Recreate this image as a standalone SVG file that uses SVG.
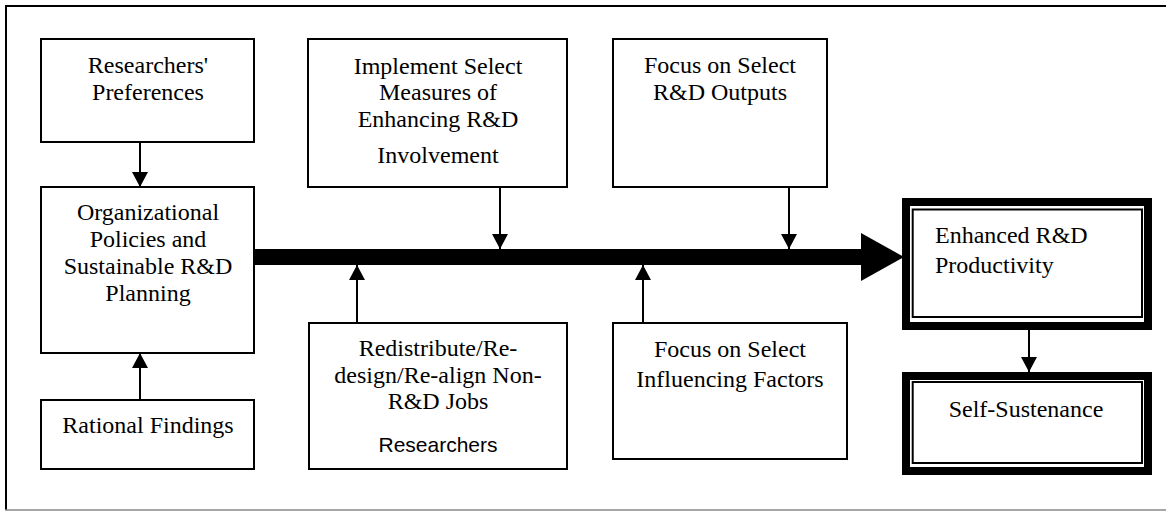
<svg xmlns="http://www.w3.org/2000/svg" width="1166" height="515" viewBox="0 0 1166 515">
<style>
.box{fill:#fff;stroke:#000;stroke-width:2}
.t{font-family:"Liberation Serif","Times New Roman",serif;font-size:24px;fill:#000;text-anchor:middle}
.s{font-family:"Liberation Sans",Arial,sans-serif;font-size:21px;fill:#000;text-anchor:middle}
.c{stroke:#000;stroke-width:2;fill:none;marker-end:url(#ah)}
.thick{fill:none;stroke:#000;stroke-width:8}
.thin{fill:none;stroke:#000;stroke-width:2}
</style>
<defs>
<marker id="ah" markerUnits="userSpaceOnUse" markerWidth="16" markerHeight="16" refX="14" refY="7.5" orient="auto" viewBox="0 0 14 15">
<path d="M0,0 L14,7.5 L0,15 Z" fill="#000"/>
</marker>
</defs>
<rect width="1166" height="515" fill="#fff"/>
<g id="frame">
<line x1="6" y1="6" x2="1166" y2="6" stroke="#000" stroke-width="2"/>
<line x1="6" y1="5" x2="6" y2="510" stroke="#000" stroke-width="2"/>
<line x1="5" y1="510" x2="1166" y2="510" stroke="#888" stroke-width="1.5"/>
</g>
<g id="connectors">
<rect x="254" y="249" width="608" height="16" fill="#000"/>
<polygon points="861,233 904,257 861,281" fill="#000"/>
<line class="c" x1="140" y1="142" x2="140" y2="187"/>
<line class="c" x1="140" y1="400" x2="140" y2="353"/>
<line class="c" x1="500" y1="187" x2="500" y2="249"/>
<line class="c" x1="789" y1="187" x2="789" y2="249"/>
<line class="c" x1="357" y1="323" x2="357" y2="265"/>
<line class="c" x1="643" y1="323" x2="643" y2="265"/>
<line class="c" x1="1029" y1="330" x2="1029" y2="372"/>
</g>
<g id="researchers-preferences">
<rect class="box" x="41" y="39" width="213" height="103"/>
<text class="t" x="148" y="73">Researchers'</text>
<text class="t" x="148" y="100">Preferences</text>
</g>
<g id="organizational-policies">
<rect class="box" x="41" y="187" width="213" height="166"/>
<text class="t" x="148" y="220">Organizational</text>
<text class="t" x="148" y="247">Policies and</text>
<text class="t" x="148" y="274">Sustainable R&amp;D</text>
<text class="t" x="148" y="301">Planning</text>
</g>
<g id="rational-findings">
<rect class="box" x="41" y="400" width="213" height="69"/>
<text class="t" x="148" y="433">Rational Findings</text>
</g>
<g id="implement-measures">
<rect class="box" x="308" y="39" width="259" height="148"/>
<text class="t" x="438" y="74">Implement Select</text>
<text class="t" x="438" y="100">Measures of</text>
<text class="t" x="438" y="127">Enhancing R&amp;D</text>
<text class="t" x="438" y="163">Involvement</text>
</g>
<g id="focus-outputs">
<rect class="box" x="613" y="39" width="214" height="148"/>
<text class="t" x="720" y="73">Focus on Select</text>
<text class="t" x="720" y="100">R&amp;D Outputs</text>
</g>
<g id="redistribute-jobs">
<rect class="box" x="309" y="323" width="258" height="146"/>
<text class="t" x="438" y="356">Redistribute/Re-</text>
<text class="t" x="438" y="383">design/Re-align Non-</text>
<text class="t" x="438" y="409">R&amp;D Jobs</text>
<text class="s" x="438" y="452">Researchers</text>
</g>
<g id="focus-factors">
<rect class="box" x="613" y="323" width="234" height="136"/>
<text class="t" x="730" y="357">Focus on Select</text>
<text class="t" x="730" y="387">Influencing Factors</text>
</g>
<g id="enhanced-productivity">
<rect x="902" y="198" width="250" height="132" fill="#fff"/>
<rect class="thick" x="906" y="202" width="242" height="124"/>
<rect class="thin" x="912.7" y="209.5" width="229.3" height="107.5"/>
<text class="t" x="935" y="243" style="text-anchor:start">Enhanced R&amp;D</text>
<text class="t" x="935" y="273" style="text-anchor:start">Productivity</text>
</g>
<g id="self-sustenance">
<rect x="902" y="372" width="250" height="103" fill="#fff"/>
<rect class="thick" x="906" y="376" width="242" height="95"/>
<rect class="thin" x="912.7" y="382" width="229.3" height="81"/>
<text class="t" x="1026" y="417">Self-Sustenance</text>
</g>
</svg>
